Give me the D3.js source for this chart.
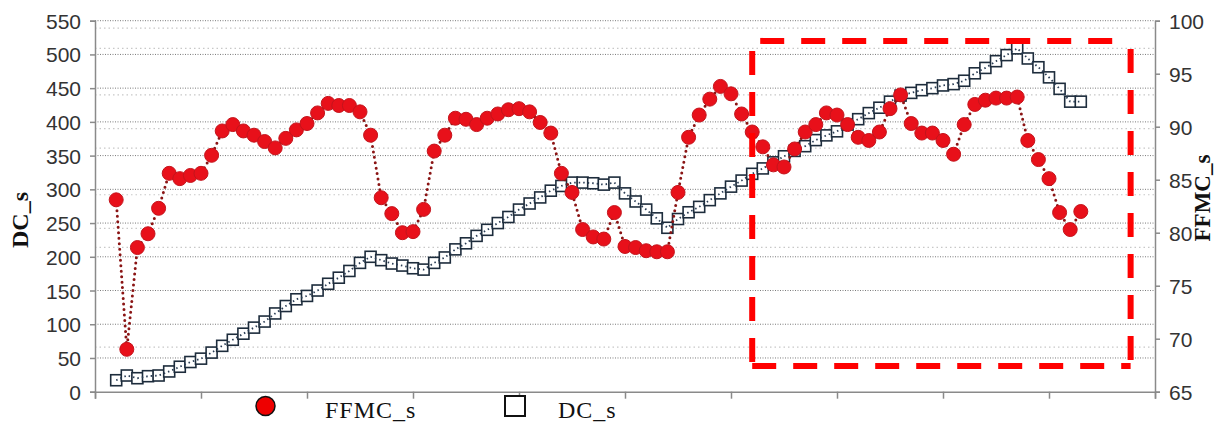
<!DOCTYPE html>
<html>
<head>
<meta charset="utf-8">
<script src="https://cdn.jsdelivr.net/npm/d3@7"></script>
<style>
  body { margin: 0; background: #fff; }
  svg { display: block; }
  .tick text { font-family: "Liberation Sans Narrow", "Arial Narrow", sans-serif; font-size: 21px; fill: #333; }
</style>
</head>
<body>
<div id="chart"></div>
<script>
// values, one per day (x position = array index)
const ffmc = [
  83.1, 69.0, 78.6, 79.9, 82.3, 85.6, 85.1, 85.4, 85.6, 87.3,
  89.6, 90.2, 89.6, 89.2, 88.6, 88.0, 88.9, 89.7, 90.3, 91.3,
  92.2, 92.0, 92.0, 91.4, 89.2, 83.3, 81.8, 80.0, 80.1, 82.2,
  87.7, 89.2, 90.8, 90.7, 90.2, 90.8, 91.2, 91.6, 91.7, 91.4,
  90.4, 89.4, 85.6, 83.8, 80.3, 79.6, 79.4, 81.9, 78.7, 78.6,
  78.3, 78.2, 78.2, 83.8, 89.0, 91.1, 92.6, 93.8, 93.1, 91.2,
  89.5, 88.1, 86.4, 86.2, 87.9, 89.5, 90.2, 91.3, 91.1, 90.2,
  89.0, 88.7, 89.5, 91.7, 93.0, 90.3, 89.4, 89.4, 88.7, 87.4,
  90.2, 92.1, 92.5, 92.7, 92.7, 92.8, 88.7, 86.9, 85.1, 81.9,
  80.3, 82.0
];
const dc = [
  17, 24, 20, 23, 24, 30, 37, 44, 49, 58,
  68, 77, 86, 95, 104, 116, 127, 137, 142, 150,
  160, 169, 179, 191, 200, 195, 190, 187, 183, 181,
  191, 199, 211, 220, 231, 240, 250, 259, 270, 279,
  288, 298, 305, 310, 310, 309, 307, 310, 294, 282,
  270, 257, 243, 256, 266, 274, 284, 294, 304, 313,
  323, 331, 340, 349, 357, 364, 373, 380, 386, 396,
  404, 413, 421, 430, 439, 443, 447, 450, 454, 456,
  461, 472, 480, 490, 499, 509, 494, 481, 466, 449,
  430, 430
];
const dcTicks = [0, 50, 100, 150, 200, 250, 300, 350, 400, 450, 500, 550];
const ffmcTicks = [65, 70, 75, 80, 85, 90, 95, 100];
// faint second set of dotted lines seen in the picture (left-axis units)
const ghostGrid = [539, 509, 440, 390, 361, 292, 242, 214, 66];
// dashed highlight box: [index from, index to], [DC from, DC to]
const boxX = [60, 95.7];
const boxY = [38, 520];

const W = 1216, H = 424;
const plotLeft = 95, plotRight = 1155, plotTop = 20.7, plotBottom = 391.7;

const svg = d3.select('#chart').append('svg')
  .attr('width', W)
  .attr('height', H);

const x = d3.scaleLinear().domain([-2, 98]).range([plotLeft, plotRight]);
const yL = d3.scaleLinear().domain([0, 550]).range([plotBottom, plotTop]);
const yR = d3.scaleLinear().domain([65, 100]).range([plotBottom, plotTop]);

// grid
svg.append('g').selectAll('line').data(ghostGrid).join('line')
  .attr('x1', plotLeft).attr('x2', plotRight)
  .attr('y1', d => yL(d)).attr('y2', d => yL(d))
  .attr('stroke', '#c8c8c8').attr('stroke-width', 1.2)
  .attr('stroke-dasharray', '1.5,3');

svg.append('g').selectAll('line').data(dcTicks.slice(1)).join('line')
  .attr('x1', plotLeft).attr('x2', plotRight)
  .attr('y1', d => yL(d)).attr('y2', d => yL(d))
  .attr('stroke', '#7a7a7a').attr('stroke-width', 1)
  .attr('stroke-dasharray', '1,1.5');

// axes
const xAxis = svg.append('g')
  .attr('transform', `translate(0,${plotBottom})`)
  .call(d3.axisBottom(x).tickValues(d3.range(-2, 99, 10)).tickSize(7).tickFormat(''));

const yAxisL = svg.append('g')
  .attr('transform', `translate(${plotLeft},0)`)
  .call(d3.axisLeft(yL).tickValues(dcTicks).tickSize(5).tickPadding(9));

const yAxisR = svg.append('g')
  .attr('transform', `translate(${plotRight},0)`)
  .call(d3.axisRight(yR).tickValues(ffmcTicks).tickSize(5).tickPadding(9));

[xAxis, yAxisL, yAxisR].forEach(a => {
  a.select('.domain').attr('stroke', '#8a8a8a').attr('stroke-width', 1.5);
  a.selectAll('.tick line').attr('stroke', '#8a8a8a').attr('stroke-width', 1.5);
});
yAxisL.selectAll('.tick text').attr('dy', '0.36em');
yAxisR.selectAll('.tick text').attr('dy', '0.36em');

// axis titles
svg.append('text')
  .attr('transform', `translate(28,220) rotate(-90)`)
  .attr('text-anchor', 'middle')
  .attr('font-family', '"Liberation Serif", "Times New Roman", serif')
  .attr('font-weight', 'bold')
  .attr('font-size', 24)
  .attr('fill', '#111')
  .text('DC_s');

svg.append('text')
  .attr('transform', `translate(1210,198) rotate(-90)`)
  .attr('text-anchor', 'middle')
  .attr('font-family', '"Liberation Serif", "Times New Roman", serif')
  .attr('font-weight', 'bold')
  .attr('font-size', 23)
  .attr('fill', '#111')
  .text('FFMC_s');

// DC series
const dcLine = d3.line().x((d, i) => x(i)).y(d => yL(d));
const dcG = svg.append('g');
dcG.selectAll('rect').data(dc).join('rect')
  .attr('x', (d, i) => x(i) - 5.5)
  .attr('y', d => yL(d) - 5.5)
  .attr('width', 11).attr('height', 11)
  .attr('fill', '#fff')
  .attr('stroke', '#1d2c3c')
  .attr('stroke-width', 1.6);
dcG.append('path')
  .datum(dc)
  .attr('d', dcLine)
  .attr('fill', 'none')
  .attr('stroke', '#2a3d55')
  .attr('stroke-width', 1.8)
  .attr('stroke-dasharray', '1.5,3');

// FFMC series
const ffLine = d3.line().x((d, i) => x(i)).y(d => yR(d));
const ffG = svg.append('g');
ffG.append('path')
  .datum(ffmc)
  .attr('d', ffLine)
  .attr('fill', 'none')
  .attr('stroke', '#8a1414')
  .attr('stroke-width', 3)
  .attr('stroke-linecap', 'round')
  .attr('stroke-dasharray', '0,5.5');
ffG.selectAll('circle').data(ffmc).join('circle')
  .attr('cx', (d, i) => x(i))
  .attr('cy', d => yR(d))
  .attr('r', 7)
  .attr('fill', '#e8101a')
  .attr('stroke', '#c4141c')
  .attr('stroke-width', 1);

// dashed highlight box
const bx0 = x(boxX[0]), bx1 = x(boxX[1]);
const by0 = yL(boxY[1]), by1 = yL(boxY[0]);
const boxG = svg.append('g')
  .attr('stroke', '#ff0000')
  .attr('stroke-width', 6)
  .attr('fill', 'none')
  .attr('stroke-dasharray', '24,17');
boxG.append('line').attr('x1', bx0 + 8).attr('y1', by0).attr('x2', bx1 - 4).attr('y2', by0);
boxG.append('line').attr('x1', bx0).attr('y1', by0 + 10).attr('x2', bx0).attr('y2', by1);
boxG.append('line').attr('x1', bx0).attr('y1', by1).attr('x2', bx1).attr('y2', by1);
boxG.append('line').attr('x1', bx1).attr('y1', by0 + 8).attr('x2', bx1).attr('y2', by1);

// legend
const legend = svg.append('g')
  .attr('font-family', '"Liberation Serif", "Times New Roman", serif')
  .attr('font-size', 24)
  .attr('fill', '#111');
legend.append('circle')
  .attr('cx', 265.5).attr('cy', 406).attr('r', 9.5)
  .attr('fill', '#ee0000').attr('stroke', '#111').attr('stroke-width', 1.5);
legend.append('text').attr('x', 325).attr('y', 418).attr('letter-spacing', 1).text('FFMC_s');
legend.append('rect')
  .attr('x', 505).attr('y', 396).attr('width', 20).attr('height', 20)
  .attr('fill', '#fff').attr('stroke', '#111').attr('stroke-width', 2);
legend.append('text').attr('x', 558).attr('y', 418).attr('letter-spacing', 1).text('DC_s');
</script>
</body>
</html>
